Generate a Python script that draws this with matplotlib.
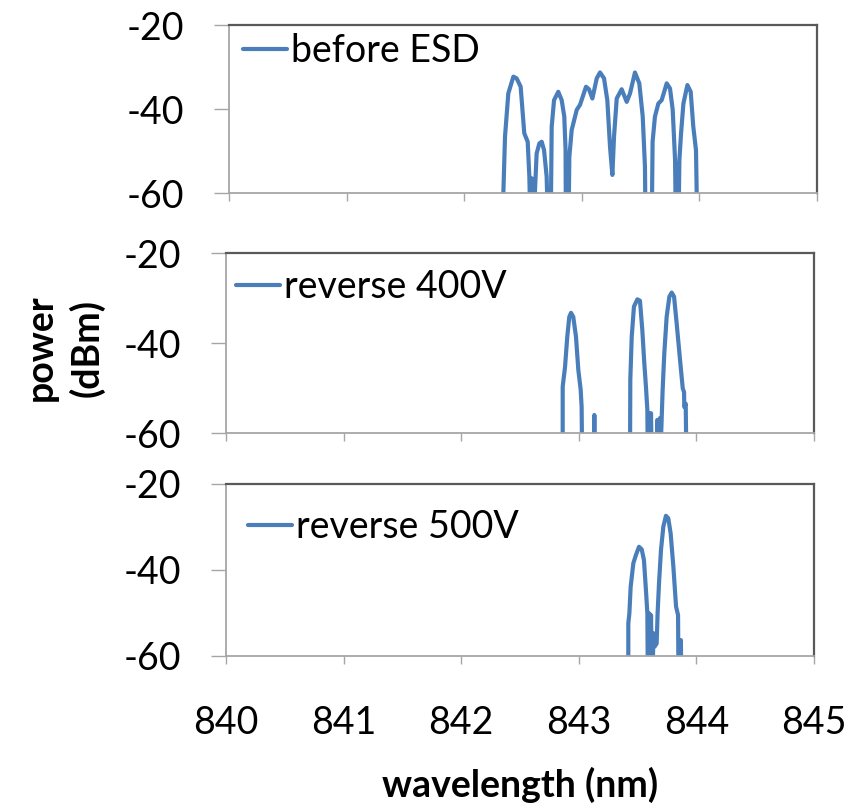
import matplotlib
matplotlib.use("Agg")
import matplotlib.pyplot as plt

plt.rcParams['font.family'] = ['Lato', 'DejaVu Sans']

# ---- data (wavelength nm, power dBm); values below -60 are off-scale ----
wl_before = [842.333, 842.333, 842.347, 842.375, 842.418, 842.446, 842.480, 842.511, 842.540,
             842.554, 842.565, 842.574, 842.588, 842.602, 842.616, 842.639, 842.659, 842.679,
             842.701, 842.715, 842.735, 842.744, 842.764, 842.800, 842.829, 842.851, 842.862,
             842.865, 842.877, 842.886, 842.894, 842.914, 842.957, 842.985, 843.036, 843.061,
             843.090, 843.127, 843.155, 843.189, 843.217, 843.240, 843.260, 843.274, 843.297,
             843.339, 843.382, 843.410, 843.452, 843.489, 843.518, 843.537, 843.543, 843.594,
             843.602, 843.622, 843.651, 843.679, 843.722, 843.750, 843.773, 843.793, 843.801,
             843.813, 843.821, 843.830, 843.844, 843.864, 843.898, 843.926, 843.948, 843.971,
             843.983]
p_before = [-70, -60, -46.6, -36.3, -32.3, -32.7, -34.7, -45.8, -47.8,
            -56.1, -70, -56.5, -70, -59.3, -50.6, -48.2, -47.8, -49.8,
            -56.1, -70, -70, -44.2, -37.9, -35.9, -37.9, -41.8, -49.8,
            -70, -52.1, -70, -51.4, -45.0, -40.2, -39.0, -34.7, -35.3,
            -37.5, -32.7, -31.3, -32.7, -37.9, -49.0, -55.7, -46.6, -37.5,
            -35.3, -38.3, -36.3, -31.3, -33.9, -41.8, -53.7, -70, -70,
            -47.8, -41.8, -38.7, -37.9, -33.9, -35.1, -40.2, -52.1, -70,
            -52.9, -70, -52.1, -45.8, -38.7, -34.3, -35.9, -44.2, -49.8,
            -70]

wl_400 = [842.863, 842.863, 842.883, 842.902, 842.919, 842.934, 842.953, 842.976, 842.996,
          843.016, 843.024, 843.030, 843.130, 843.132, 843.134, 843.435, 843.438, 843.450,
          843.469, 843.498, 843.520, 843.540, 843.557, 843.571, 843.583, 843.588, 843.596,
          843.605, 843.614, 843.622, 843.662, 843.667, 843.678, 843.690, 843.700, 843.713,
          843.727, 843.747, 843.770, 843.790, 843.810, 843.832, 843.861, 843.884, 843.895,
          843.897, 843.909, 843.917]
p_400 = [-70, -49.7, -45.3, -38.6, -34.2, -33.3, -34.2, -38.6, -46.0,
         -50.4, -54.2, -70, -70, -56.0, -70, -70, -48.2, -38.6,
         -31.9, -30.3, -30.6, -37.1, -44.5, -49.7, -54.9, -70, -55.6,
         -70, -55.6, -70, -70, -57.1, -70, -56.7, -60.5, -50.4,
         -42.3, -34.2, -29.7, -28.8, -29.7, -35.6, -43.8, -50.1, -50.9,
         -54.2, -53.5, -70]

wl_500 = [843.421, 843.421, 843.430, 843.441, 843.464, 843.486, 843.512, 843.535, 843.554,
          843.571, 843.583, 843.588, 843.600, 843.605, 843.614, 843.625, 843.634, 843.645,
          843.662, 843.670, 843.682, 843.699, 843.719, 843.741, 843.761, 843.781, 843.804,
          843.827, 843.844, 843.849, 843.867, 843.868, 843.873]
p_500 = [-70, -52.4, -50.1, -43.9, -38.4, -36.5, -34.6, -35.2, -37.7,
         -44.7, -50.1, -70, -50.1, -70, -50.5, -70, -54.7, -57.8,
         -57.1, -50.1, -43.1, -35.3, -29.9, -27.4, -28.0, -31.5, -39.2,
         -48.5, -50.5, -70, -70, -56.3, -70]

labels = ["before ESD", "reverse 400V", "reverse 500V"]
series = [(wl_before, p_before), (wl_400, p_400), (wl_500, p_500)]
xticks = [840, 841, 842, 843, 844, 845]
yticks = [-60, -40, -20]

# ---- layout ----
W, H = 863, 809
fig = plt.figure(figsize=(W / 100, H / 100), dpi=100)
panels = [(229, 817, 25, 193), (226, 814, 253, 433), (226, 814, 484, 656)]
leg_pos = [(0.024, 0.845), (0.017, 0.811), (0.037, 0.75)]
line_color = '#4a7ebb'
light = '#a6a6a6'
dark = '#595959'
fs = 27

for i, ((l, r, t, b), (wl, p), lab, lp) in enumerate(zip(panels, series, labels, leg_pos)):
    ax = fig.add_axes([l / W, 1 - b / H, (r - l) / W, (b - t) / H])
    ax.plot(wl, p, color=line_color, lw=3.0, label=lab, solid_joinstyle='round',
            solid_capstyle='round')
    ax.set_xlim(840, 845)
    ax.set_ylim(-60, -20)
    ax.set_xticks(xticks)
    ax.set_yticks(yticks)
    ax.set_yticklabels([str(v) for v in yticks])
    if i < 2:
        ax.set_xticklabels([])
    else:
        ax.set_xticklabels([str(v) for v in xticks])
    ax.tick_params(axis='y', direction='out', length=11, width=1, color=light,
                   labelsize=fs, pad=21)
    ax.tick_params(axis='x', direction='out', length=6, width=1, color=light,
                   labelsize=fs, pad=29)
    for s in ['left', 'bottom']:
        ax.spines[s].set_color(light)
        ax.spines[s].set_linewidth(1.3)
    for s in ['top', 'right']:
        ax.spines[s].set_color(dark)
        ax.spines[s].set_linewidth(1.6)
    ax.legend(loc='center left', bbox_to_anchor=lp, frameon=False, fontsize=fs,
              handlelength=1.17, handletextpad=0.12, borderpad=0, borderaxespad=0)

fig.text(64 / W, 1 - 348 / H, "power\n(dBm)", rotation=90, ha='center', va='center',
         fontsize=fs, fontweight='bold', multialignment='center', linespacing=1.35)
fig.text(520 / W, 1 - 785 / H, "wavelength (nm)", ha='center', va='center',
         fontsize=fs, fontweight='bold')

fig.savefig("out.png", dpi=100)
